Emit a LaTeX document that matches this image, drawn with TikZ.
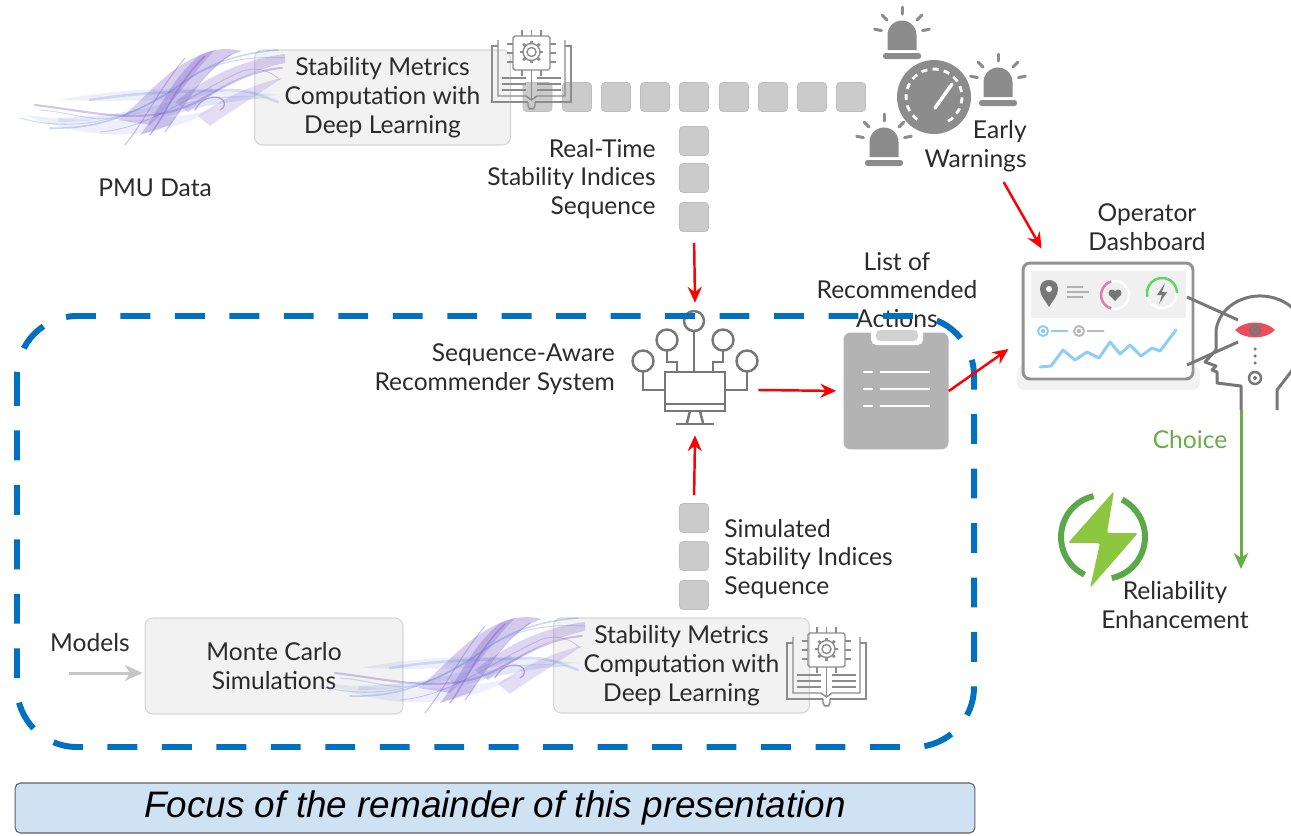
\documentclass[tikz,border=0pt]{standalone}
\usepackage{fontspec}
\setmainfont{Lato}
\newfontfamily\bannerfont{Liberation Sans}
\usetikzlibrary{arrows.meta,calc}

\definecolor{txt}{HTML}{2B2B2B}
\definecolor{boxfill}{HTML}{F2F2F2}
\definecolor{boxline}{HTML}{D6D6D6}
\definecolor{sqfill}{HTML}{CBCBCB}
\definecolor{sqline}{HTML}{BDBDBD}
\definecolor{icongray}{HTML}{8C8C8C}
\definecolor{linegray}{HTML}{777777}
\definecolor{frameblue}{HTML}{0070C0}
\definecolor{bannerfill}{HTML}{CFE2F3}
\definecolor{choicegreen}{HTML}{6AAB4A}
\definecolor{boltgreen}{HTML}{8DC63F}
\definecolor{ringgreen}{HTML}{5BA84A}
\definecolor{gaugegreen}{HTML}{5CD65C}
\definecolor{eyered}{HTML}{EF4B5A}
\definecolor{chartblue}{HTML}{8ECEF6}
\definecolor{heartpink}{HTML}{E07AA6}
\definecolor{clipgray}{HTML}{B3B3B3}
\definecolor{smokeA}{HTML}{7A5BC9}
\definecolor{smokeB}{HTML}{6C86DA}

% wisps of purple smoke, drawn in pixel units
\newcommand{\smokewisps}[1]{%
\begin{scope}[shift={#1}, line cap=round]
  % soft bluish haze underneath
  \fill[smokeB, opacity=0.12] (25,115) .. controls (90,142) and (160,142) .. (215,108) .. controls (175,122) and (100,124) .. (25,115) -- cycle;
  \fill[smokeB, opacity=0.12] (60,100) .. controls (120,88) and (190,85) .. (280,95) .. controls (200,100) and (130,102) .. (60,100) -- cycle;
  % dense violet plume
  \fill[smokeA, opacity=0.32] (140,135) .. controls (160,110) and (170,80) .. (200,55) .. controls (215,48) and (230,48) .. (242,51) .. controls (212,60) and (192,90) .. (170,125) -- cycle;
  \fill[smokeA, opacity=0.3] (118,120) .. controls (150,95) and (170,62) .. (215,50) .. controls (195,70) and (178,98) .. (150,125) -- cycle;
  \fill[smokeA, opacity=0.26] (175,102) .. controls (205,78) and (240,60) .. (285,54) -- (285,63) .. controls (250,70) and (215,90) .. (188,112) -- cycle;
  \fill[smokeA, opacity=0.2] (198,116) .. controls (220,100) and (250,85) .. (282,78) .. controls (258,95) and (232,110) .. (210,126) -- cycle;
  \fill[smokeB, opacity=0.2] (150,112) .. controls (190,100) and (230,92) .. (270,98) .. controls (230,100) and (190,108) .. (158,120) -- cycle;
  % fine strands
  \draw[smokeB, opacity=0.3, line width=0.6pt] (20,118) .. controls (80,135) and (140,115) .. (180,85) .. controls (205,65) and (240,55) .. (285,58);
  \draw[smokeB, opacity=0.35, line width=0.9pt] (50,128) .. controls (110,130) and (150,105) .. (190,78) .. controls (215,60) and (250,52) .. (278,50);
  \draw[smokeA, opacity=0.35, line width=1.2pt] (35,105) .. controls (95,112) and (150,128) .. (200,100) .. controls (235,80) and (255,70) .. (282,68);
  \draw[smokeA, opacity=0.4, line width=0.6pt] (125,145) .. controls (145,120) and (160,88) .. (185,58);
  \draw[smokeA, opacity=0.45, line width=0.8pt] (150,135) .. controls (168,110) and (178,82) .. (205,56);
  \draw[smokeA, opacity=0.4, line width=0.6pt] (165,132) .. controls (185,105) and (200,75) .. (230,55);
  \draw[smokeB, opacity=0.25, line width=1.5pt] (90,100) .. controls (140,92) and (175,92) .. (230,90) .. controls (250,90) and (262,96) .. (278,102);
  \draw[smokeB, opacity=0.18, line width=2.5pt] (60,120) .. controls (120,118) and (160,110) .. (210,90);
  \draw[smokeA, opacity=0.3, line width=0.5pt] (100,132) .. controls (150,128) and (190,95) .. (240,72) .. controls (255,66) and (270,70) .. (280,80);
  \draw[smokeA, opacity=0.5, line width=0.7pt] (195,110) .. controls (200,100) and (210,95) .. (220,98) .. controls (226,100) and (226,108) .. (220,110);
  \draw[smokeB, opacity=0.3, line width=0.6pt] (40,110) .. controls (70,112) and (90,122) .. (120,118);
\end{scope}}

% chip over an open book, 80 x 80 pixels from its top left corner
\newcommand{\chipbook}[1]{%
\begin{scope}[shift={#1}, draw=icongray, line width=0.8pt]
  \draw[rounded corners=1pt] (21,6) rectangle (58,40);
  \foreach \yy in {14,23,32} {\draw (15,\yy) -- (21,\yy); \draw (58,\yy) -- (64,\yy);}
  \foreach \xx in {30,39.5,49} {\draw (\xx,0) -- (\xx,6); \draw (\xx,40) -- (\xx,46);}
  \draw (39.5,22) circle (0.09cm);
  \draw (39.5,22) circle (0.17cm);
  \foreach \a in {0,45,...,315} \draw[line width=1.6pt] ($(39.5,22)+(\a:0.17cm)$) -- ($(39.5,22)+(\a:0.23cm)$);
  \draw (6,16) -- (0,16) -- (0,72) -- (36,72);
  \draw (43,72) -- (79,72) -- (79,16) -- (73,16);
  \draw (6,10) -- (6,66) -- (34,66) -- (39.5,70) -- (45,66) -- (73,66) -- (73,10);
  \draw (39.5,46) -- (39.5,70);
  \draw[rounded corners=2pt] (36,72) -- (36,79) -- (43,79) -- (43,72);
  \foreach \yy in {48,54,60} {\draw (10,\yy) -- (34,\yy); \draw (45,\yy) -- (69,\yy);}
\end{scope}}

% alarm light; origin at the bottom centre of its dome
\newcommand{\siren}[1]{%
\begin{scope}[shift={#1}]
  \fill[icongray] (-14.5,0) -- (-14.5,-15) arc[start angle=180, end angle=0, radius=0.29cm] -- (14.5,0) -- cycle;
  \fill[icongray, rounded corners=1.5pt] (-19,3) rectangle (19,9);
  \foreach \a in {90,45,135,12,168}
    \draw[icongray, line width=1.7pt, line cap=round] ($(0,-15)+(\a:0.42cm)$) -- ($(0,-15)+(\a:0.56cm)$);
\end{scope}}

\begin{document}
\begin{tikzpicture}[x=0.02cm, y=-0.02cm,
  lbl/.style={font=\fontsize{14}{16.4}\selectfont, text=txt, inner sep=0, align=center},
  procbox/.style={lbl, rounded corners=4.5pt, fill=boxfill, draw=boxline, line width=0.6pt, minimum width=5.12cm, minimum height=1.9cm},
  sq/.style={rounded corners=2pt, fill=sqfill, draw=sqline, line width=0.4pt, minimum size=0.58cm, inner sep=0},
  redarr/.style={draw=red, line width=1.4pt, -{Stealth[length=9pt,width=8pt,inset=3pt]}},
  greenarr/.style={draw=choicegreen, line width=1.7pt, -{Stealth[length=9pt,width=8pt,inset=2.5pt]}},
  grayarr/.style={draw=gray!45, line width=1.7pt, -{Stealth[length=10pt,width=9pt,inset=3pt]}},
  iconline/.style={draw=linegray, line width=1.4pt},
  spot/.style={inner sep=0}]
\useasboundingbox (0,0) rectangle (1291,835);

% ---------- real-time branch ----------
\node[procbox] (dltop) at (382.5,97.5) {Stability Metrics\\Computation with\\Deep Learning};
\smokewisps{(0,0)}
\node[lbl] (pmu) at (155,188) {PMU Data};

\foreach \x [count=\i] in {537.5,577,616,655,694,734,773,812,851}
  \node[sq] (h\i) at (\x,97) {};
\node[sq] (v1) at (694,141) {};
\node[sq] (v2) at (694,178) {};
\node[sq] (v3) at (694,217) {};
\chipbook{(492,30)}
\node[lbl, align=right, anchor=east] (rtseq) at (656,179) {Real-Time\\Stability Indices\\Sequence};

% ---------- early warnings ----------
\fill[icongray] (934,97) circle (0.74cm);
\draw[white, line width=1.6pt, dash pattern=on 3.5pt off 3pt] ($(934,97)+(-60:0.56cm)$) arc[start angle=-60, end angle=240, radius=0.56cm];
\draw[white, line width=2pt, line cap=round] (935,108) -- (952,84);
\node[spot, minimum size=1.48cm] (gauge) at (934,97) {};
\siren{(902,50)}
\siren{(998,97)}
\siren{(884,157)}
\node[lbl, align=right, anchor=east] (warn) at (1027,146) {Early\\Warnings};

% ---------- operator dashboard ----------
\node[lbl] (opd) at (1147,227) {Operator\\Dashboard};
\fill[gray!10, rounded corners=4pt] (1017,366) rectangle (1200,390);
\node[draw=linegray!80, line width=1.7pt, fill=white, rounded corners=4pt, minimum width=3.4cm, minimum height=2.32cm, inner sep=0] (dash) at (1108,321) {};
\fill[gray!12] (1031,271) rectangle (1186,318);
\fill[linegray] (1049,307) .. controls (1045,300) and (1040,296) .. (1040,289) .. controls (1040,283) and (1044,280) .. (1049,280) .. controls (1054,280) and (1058,283) .. (1058,289) .. controls (1058,296) and (1053,300) .. (1049,307) -- cycle;
\fill[white] (1049,289) circle (0.06cm);
\draw[gray!60, line width=1.1pt] (1067,287) -- (1083,287) (1067,292) -- (1089,292) (1067,297) -- (1083,297);
\draw[heartpink, line width=1.4pt] ($(1115,295)+(105:0.28cm)$) arc[start angle=105, end angle=255, radius=0.28cm];
\draw[white, line width=1.4pt] ($(1115,295)+(-105:0.28cm)$) arc[start angle=-105, end angle=105, radius=0.28cm];
\fill[linegray] (1112,293) circle (0.07cm) (1118,293) circle (0.07cm);
\fill[linegray] (1108.6,294.5) -- (1121.4,294.5) -- (1115,301) -- cycle;
\draw[gaugegreen, line width=1.4pt] ($(1162,293)+(0:0.3cm)$) arc[start angle=0, end angle=195, radius=0.3cm];
\draw[white, line width=1.4pt] ($(1162,293)+(195:0.3cm)$) arc[start angle=195, end angle=360, radius=0.3cm];
\fill[linegray] (1165,283) -- (1157,295) -- (1162,295) -- (1159,304) -- (1167,292) -- (1162,292) -- cycle;
\draw[chartblue, line width=1.1pt] (1043,331) circle (0.1cm) (1051,331) -- (1068,331);
\fill[chartblue] (1043,331) circle (0.045cm);
\draw[gray!55, line width=1.1pt] (1079,331) circle (0.1cm) (1087,331) -- (1104,331);
\fill[gray!55] (1079,331) circle (0.045cm);
\draw[chartblue, line width=1.7pt, line join=round, line cap=round] (1040,367) -- (1051,366) -- (1063,350) -- (1075,360) -- (1087,352) -- (1099,358) -- (1110,342) -- (1120,354) -- (1130,345) -- (1141,356) -- (1152,348) -- (1160,351) -- (1176,330);

% operator head looking at the dashboard
\node[spot, minimum width=1.8cm, minimum height=2.4cm] (head) at (1241,350) {};
\begin{scope}
  \clip (0,0) rectangle (1291,835);
  \draw[linegray, line width=1.7pt] (1187,297) -- (1238,320) (1187,365) -- (1238,342);
  \draw[linegray, line width=1.7pt, line join=round] (1241,410) -- (1241,386) -- (1217,383) -- (1217,372) -- (1212,370) -- (1216,366) -- (1205,362) -- (1216,350) -- (1216,330) .. controls (1220,305) and (1245,295) .. (1262,296) .. controls (1280,297) and (1291,305) .. (1298,314);
  \draw[linegray, line width=1.7pt] (1277,410) -- (1277,390) .. controls (1284,381) and (1291,372) .. (1298,362);
  \fill[eyered] (1235,330) .. controls (1245,320) and (1265,320) .. (1275,330) .. controls (1265,340) and (1245,340) .. (1235,330) -- cycle;
  \draw[linegray, line width=1.4pt] (1255,330) circle (0.1cm);
  \fill[linegray] (1255,330) circle (0.05cm);
  \foreach \yy in {349,356,363} \fill[linegray] (1255,\yy) circle (0.035cm);
  \draw[linegray, line width=1.4pt] (1255,378) circle (0.12cm);
  \fill[linegray] (1255,378) circle (0.04cm);
\end{scope}

% ---------- outcome ----------
\node[lbl, text=choicegreen] (choice) at (1190,440) {Choice};
\draw[ringgreen, line width=3.4pt] ($(1103,537)+(103:0.84cm)$) arc[start angle=103, end angle=244, radius=0.84cm];
\draw[ringgreen, line width=3.4pt] ($(1103,537)+(-78:0.84cm)$) arc[start angle=-78, end angle=63, radius=0.84cm];
\fill[boltgreen, rounded corners=1pt] (1114,491) -- (1068,543) -- (1100,543) -- (1090,588) -- (1138,533) -- (1107,533) -- cycle;
\node[lbl] (rel) at (1175,605) {Reliability\\Enhancement};

% ---------- recommender and action list ----------
\node[lbl, align=right, anchor=east] (recl) at (615,369) {Sequence-Aware\\Recommender System};
\node[spot, minimum width=2.52cm, minimum height=2.64cm] (rec) at (695,369) {};
\begin{scope}[iconline]
  \draw (694,321) circle (0.2cm) (667,340) circle (0.21cm) (723,340) circle (0.21cm)
        (643,361) circle (0.21cm) (747,361) circle (0.21cm);
  \draw (694,331) -- (694,372);
  \draw (667,351) -- (667,362) -- (677,362) -- (677,372);
  \draw (723,351) -- (723,362) -- (713,362) -- (713,372);
  \draw (643,372) -- (643,390) -- (665,390);
  \draw (747,372) -- (747,390) -- (725,390);
  \draw (665,372) rectangle (725,411);
  \draw (665,404) -- (725,404);
  \draw (690,411) -- (687,423) (700,411) -- (703,423);
  \draw (676,424) -- (714,424);
\end{scope}

\node[lbl] (lra) at (897,290) {List of\\Recommended\\Actions};
\node[fill=clipgray, rounded corners=4pt, minimum width=2.1cm, minimum height=2.34cm, inner sep=0] (clip) at (896,391) {};
\fill[white, rounded corners=3pt] (871,327) rectangle (923,345);
\fill[gray!35, rounded corners=2.5pt] (876,330) rectangle (918,341);
\foreach \yy in {372,389,406}
  \draw[white, line width=1.7pt] (863,\yy) -- (873,\yy) (880,\yy) -- (930,\yy);

% ---------- simulated branch ----------
\node[sq] (s1) at (694,518) {};
\node[sq] (s2) at (694,556) {};
\node[sq] (s3) at (694,595) {};
\node[lbl, align=left, anchor=west] (simseq) at (724,559) {Simulated\\Stability Indices\\Sequence};

\node[lbl] (models) at (90,643) {Models};
\node[procbox, minimum width=5.16cm, minimum height=1.92cm] (mc) at (274,666) {Monte Carlo\\Simulations};
\node[procbox] (dlbot) at (681.5,665.5) {Stability Metrics\\Computation with\\Deep Learning};
\smokewisps{(300,568)}
\chipbook{(787,627)}

% ---------- scope of the talk ----------
\draw[frameblue, line width=3.4pt, dash pattern=on 17pt off 14pt, rounded corners=1.2cm] (17,316) rectangle (974,747);
\node[fill=bannerfill, draw=gray!75!black, line width=0.6pt, rounded corners=3pt, minimum width=19.2cm, minimum height=1cm, inner sep=0,
      font=\bannerfont\itshape\fontsize{21}{24}\selectfont, text=black] (banner) at (495,808) {Focus of the remainder of this presentation};

% ---------- connectors ----------
\draw[grayarr] ($(mc.west)+(-75,7)$) -- ($(mc.west)+(-2,7)$);
\draw[redarr, shorten <=0.22cm] (v3.south) -- (rec.north);
\draw[redarr, shorten <=0.16cm] (s1.north) -- (rec.south);
\draw[redarr, shorten >=0.14cm] ($(rec.east)+(0,21)$) -- (clip.west);
\draw[redarr] (clip.east) -- ($(dash.west)+(-13,28)$);
\draw[redarr] ($(warn.south)+(28,10)$) -- ($(dash.north west)+(20,-13)$);
\draw[greenarr, shorten >=0.24cm] (head.south) -- (head.south |- rel.north);
\end{tikzpicture}
\end{document}
